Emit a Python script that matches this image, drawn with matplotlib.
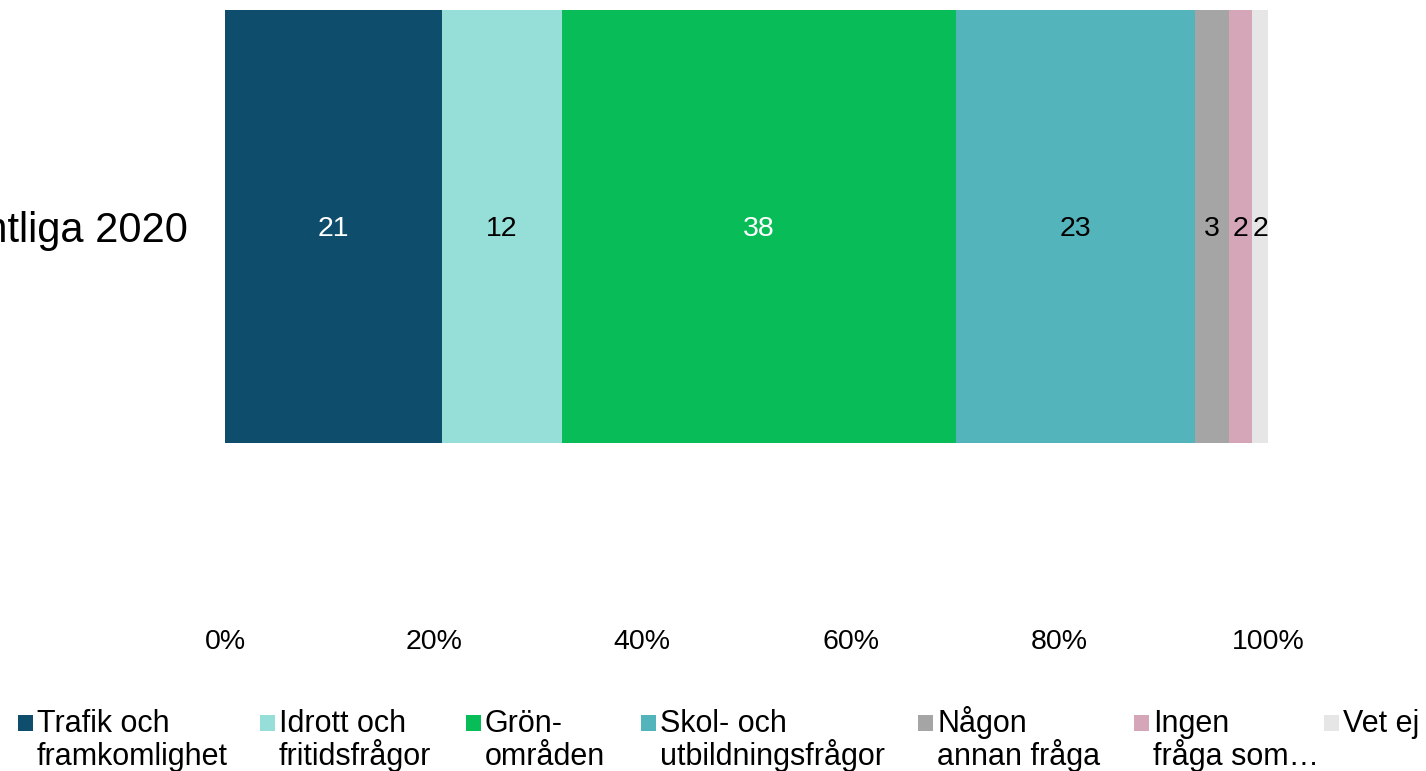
import matplotlib.pyplot as plt
from matplotlib.patches import Rectangle
from matplotlib.ticker import PercentFormatter

plt.rcParams['font.family'] = ['Liberation Sans', 'DejaVu Sans']

# Datos
categoria = "Samtliga 2020"
series = ["Trafik och\nframkomlighet", "Idrott och\nfritidsfrågor", "Grön-\nområden",
          "Skol- och\nutbildningsfrågor", "Någon\nannan fråga", "Ingen\nfråga som…", "Vet ej"]
valores = [20.8, 11.6, 37.8, 23.0, 3.3, 2.2, 1.5]
colores = ["#0E4D6B", "#96DED8", "#08BD58", "#53B4BC", "#A5A5A5", "#D4A6B8", "#E6E6E6"]
color_texto = ["white", "black", "white", "black", "black", "black", "black"]

total = sum(valores)
porcentajes = [v / total * 100 for v in valores]

W, H = 1426, 771
fig = plt.figure(figsize=(W / 100, H / 100), dpi=100)
ax = fig.add_axes([225 / W, 1 - 443 / H, (1268 - 225) / W, (443 - 10) / H])

izq = 0
for nombre, v, p, c, tc in zip(series, valores, porcentajes, colores, color_texto):
    ax.barh([categoria], [p], left=izq, height=1.0, color=c, label=nombre)
    ax.text(izq + p / 2, 0, f"{v:.0f}", ha="center", va="center_baseline",
            fontsize=20.5, color=tc)
    izq += p

ax.set_xlim(0, 100)
ax.set_ylim(-0.5, 0.5)
ax.xaxis.set_major_formatter(PercentFormatter(decimals=0))
ax.set_xticks([0, 20, 40, 60, 80, 100])
ax.tick_params(axis="x", length=0, pad=134, labelsize=20.5)
ax.tick_params(axis="y", length=0, pad=27, labelsize=30)
for s in ax.spines.values():
    s.set_visible(False)

# Leyenda dibujada a mano (marcador alineado con la primera línea)
leyenda_x = [18, 260, 466, 641, 918, 1134, 1324]
for x, nombre, c in zip(leyenda_x, series, colores):
    fig.add_artist(Rectangle((x / W, 1 - 731 / H), 15 / W, 16 / H,
                             transform=fig.transFigure, facecolor=c, edgecolor="none"))
    for i, linea in enumerate(nombre.split("\n")):
        fig.text((x + 19) / W, 1 - (732 + 33 * i) / H, linea, ha="left", va="baseline",
                 fontsize=22)

fig.savefig("out.png", dpi=100)
